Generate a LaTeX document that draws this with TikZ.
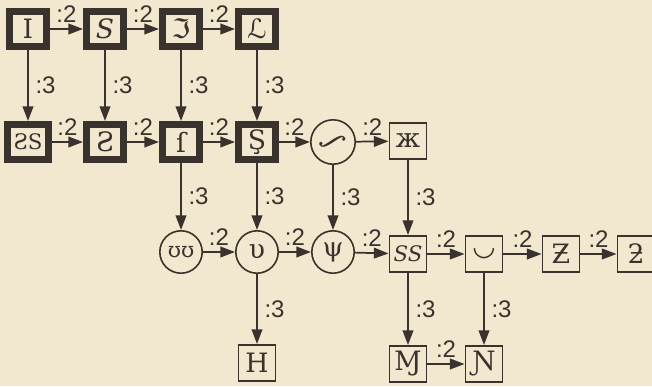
\documentclass[tikz,border=0pt]{standalone}
\usepackage{fontspec}
\setmainfont{DejaVu Serif}
\newfontfamily\labfont{Liberation Sans}
\newfontfamily\symsans{DejaVu Sans}
\usepackage{graphicx}
\usetikzlibrary{arrows.meta}
\definecolor{paper}{HTML}{F2E8CF}
\definecolor{ink}{HTML}{3A322D}
\begin{document}
\begin{tikzpicture}[x=0.75pt,y=-0.75pt,
  every node/.style={text=ink},
  glyph/.style={font=\fontsize{20}{20}\selectfont},
  thickbox/.style={glyph, draw=ink, line width=5pt, minimum width=28pt, minimum height=26.5pt, inner sep=0pt},
  thinbox/.style={glyph, draw=ink, line width=1.2pt, minimum width=28pt, minimum height=27.3pt, inner sep=0pt},
  ring/.style={glyph, circle, draw=ink, line width=1.2pt, minimum size=31.8pt, inner sep=0pt},
  link/.style={draw=ink, line width=1.3pt, -{Triangle[length=11pt,width=8pt]}},
  hl/.style={above=4pt, inner sep=0pt, font=\labfont\fontsize{18}{18}\selectfont},
  vl/.style={right=5pt, inner sep=0pt, font=\labfont\fontsize{18}{18}\selectfont}
]
\fill[paper] (0,0) rectangle (652,386);
\useasboundingbox (0,0) rectangle (652,386);

% first row
\node[thickbox] (a1) at (28,29) {I};
\node[thickbox] (a2) at (105,29) {\itshape S};
\node[thickbox] (a3) at (181,29) {\symsans ℑ};
\node[thickbox] (a4) at (257,29) {\symsans ℒ};

% second row
\node[thickbox, minimum width=31pt, font=\fontsize{16}{16}\selectfont] (b1) at (28,142) {ƧS};
\node[thickbox] (b2) at (105,142) {Ƨ};
\node[thickbox] (b3) at (181,142) {ſ};
\node[thickbox] (b4) at (257,142) {Ş};
\node[ring, minimum size=33.3pt] (b5) at (333,142) {\rotatebox{-55}{∫}};
\node[thinbox] (b6) at (408,141) {ж};

% third row
\node[ring, font=\fontsize{16}{16}\selectfont] (c3) at (181,252) {ʊʊ};
\node[ring] (c4) at (257,252) {υ};
\node[ring] (c5) at (333,252) {ψ};
\node[thinbox, font=\fontsize{16}{16}\selectfont] (c6) at (408,254) {\itshape SS};
\node[thinbox] (c7) at (484,254) {\symsans ◡};
\node[thinbox] (c8) at (561,254) {Ƶ};
\node[thinbox] (c9) at (636,254) {ƻ};

% fourth row
\node[thinbox] (d4) at (257,363) {H};
\node[thinbox] (d6) at (408,364) {Ɱ};
\node[thinbox] (d7) at (484,364) {Ɲ};

% horizontal steps
\draw[link] (a1) -- node[hl]{:2} (a2);
\draw[link] (a2) -- node[hl]{:2} (a3);
\draw[link] (a3) -- node[hl]{:2} (a4);
\draw[link] (b1) -- node[hl]{:2} (b2);
\draw[link] (b2) -- node[hl]{:2} (b3);
\draw[link] (b3) -- node[hl]{:2} (b4);
\draw[link] (b4) -- node[hl]{:2} (b5);
\draw[link] (b5) -- node[hl]{:2} (b6);
\draw[link] (c3) -- node[hl]{:2} (c4);
\draw[link] (c4) -- node[hl]{:2} (c5);
\draw[link] (c5) -- node[hl]{:2} (c6);
\draw[link] (c6) -- node[hl]{:2} (c7);
\draw[link] (c7) -- node[hl]{:2} (c8);
\draw[link] (c8) -- node[hl]{:2} (c9);
\draw[link] (d6) -- node[hl]{:2} (d7);

% vertical steps
\draw[link] (a1) -- node[vl]{:3} (b1);
\draw[link] (a2) -- node[vl]{:3} (b2);
\draw[link] (a3) -- node[vl]{:3} (b3);
\draw[link] (a4) -- node[vl]{:3} (b4);
\draw[link] (b3) -- node[vl]{:3} (c3);
\draw[link] (b4) -- node[vl]{:3} (c4);
\draw[link] (b5) -- node[vl]{:3} (c5);
\draw[link] (b6) -- node[vl]{:3} (c6);
\draw[link] (c4) -- node[vl]{:3} (d4);
\draw[link] (c6) -- node[vl]{:3} (d6);
\draw[link] (c7) -- node[vl]{:3} (d7);
\end{tikzpicture}
\end{document}
